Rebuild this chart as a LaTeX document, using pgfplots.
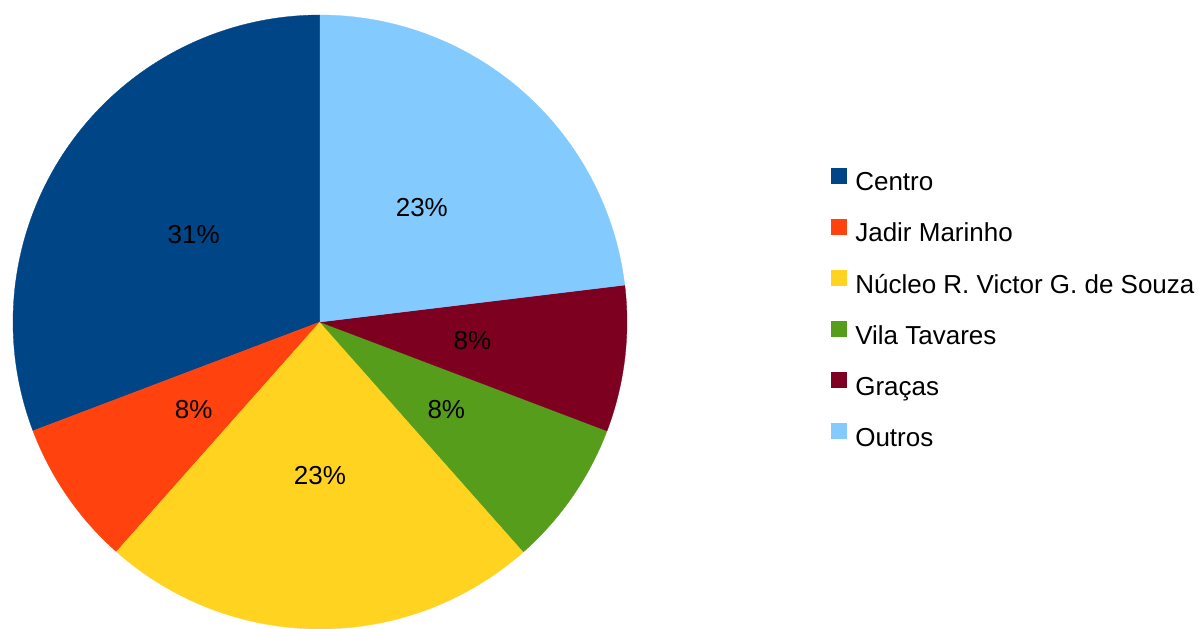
\documentclass[border=0pt]{standalone}
\usepackage{pgfplots}
\pgfplotsset{compat=1.18}
\usepackage{fontspec}
\setmainfont{Liberation Sans}
\definecolor{pcentro}{HTML}{004586}
\definecolor{pjadir}{HTML}{FF420E}
\definecolor{pnucleo}{HTML}{FFD320}
\definecolor{pvila}{HTML}{579D1C}
\definecolor{pgracas}{HTML}{7E0021}
\definecolor{poutros}{HTML}{83CAFF}
% counts per district (total 13)
\def\slices{4/pcentro/31\%, 1/pjadir/8\%, 3/pnucleo/23\%, 1/pvila/8\%, 1/pgracas/8\%, 3/poutros/23\%}
\def\total{13}
\begin{document}
\gdef\pieplots{}%
\gdef\pa{90}%
\foreach \n/\c/\p in \slices {%
  \pgfmathsetmacro{\pb}{\pa+\n/\total*360}%
  \pgfmathsetmacro{\pm}{(\pa+\pb)/2}%
  \xdef\pieplots{\unexpanded\expandafter{\pieplots}%
    \noexpand\addplot[fill=\c, draw=\c, line width=0.3pt, domain=\pa:\pb, samples=100]
      ({cos(x)},{sin(x)}) -- (axis cs:0,0) -- cycle;
    \noexpand\node at (axis cs:{0.5*cos(\pm)},{0.5*sin(\pm)}) {\p};}%
  \xdef\pa{\pb}%
}%
\begin{tikzpicture}[x=1pt,y=1pt,font=\fontsize{26}{31}\selectfont]
\begin{axis}[at={(320pt,307pt)}, anchor=origin, scale only axis,
  width=614pt, height=614pt, xmin=-1, xmax=1, ymin=-1, ymax=1,
  hide axis, clip=false,
  legend cell align=left,
  legend image code/.code={\fill[#1] (0pt,1.5pt) rectangle (15pt,16.5pt);},
  legend style={at={(axis cs:1.6645,0.503)}, anchor=north west, draw=none, fill=none,
    inner sep=0pt, outer sep=0pt, row sep=23pt, font=\fontsize{26}{31}\selectfont,
    nodes={inner sep=0pt, text height=18pt, text depth=5pt},
    /tikz/every odd column/.append style={column sep=9pt}},
]
\pieplots
\legend{Centro, Jadir Marinho, Núcleo R. Victor G. de Souza, Vila Tavares, Graças, Outros}
\end{axis}
\pgfresetboundingbox
\path[use as bounding box] (0,0) rectangle (1202,629);
\end{tikzpicture}
\end{document}
